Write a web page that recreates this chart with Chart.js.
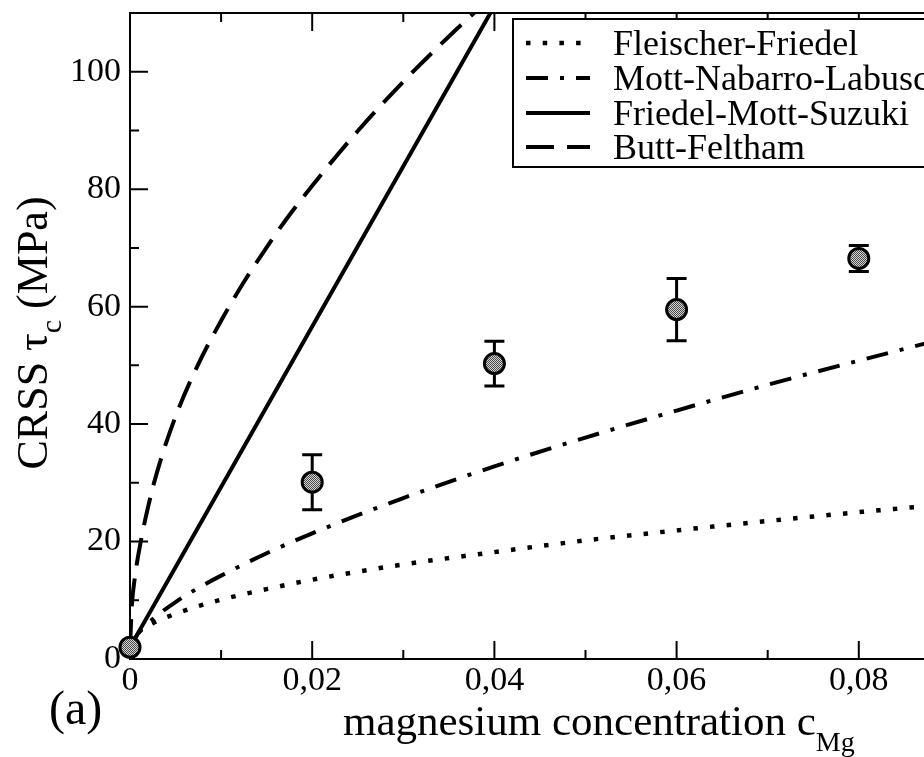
<!DOCTYPE html>
<html>
<head>
<meta charset="utf-8">
<script src="https://cdn.jsdelivr.net/npm/chart.js@4.4.1/dist/chart.umd.min.js"></script>
<style>
  html, body { margin: 0; padding: 0; background: #fff; overflow: hidden; }
  #wrap { width: 1060px; height: 757px; }
</style>
</head>
<body>
<div id="wrap"><canvas id="crss" width="1060" height="757"></canvas></div>
<script>
// shared concentration grid for the two weak-obstacle models
const gridC = [0, 0.001, 0.0025, 0.005, 0.0075, 0.01, 0.015, 0.02, 0.03, 0.04, 0.05, 0.06, 0.07, 0.08, 0.09, 0.1];
const fleischerFriedel = [2, 4.6, 6.1, 7.7, 9.0, 10.1, 11.9, 13.5, 16.1, 18.2, 20.2, 21.9, 23.5, 25.0, 26.4, 27.7];
const mottNabarroLabusch = [2, 4.6, 6.8, 9.7, 12.1, 14.2, 18.0, 21.4, 27.4, 32.8, 37.7, 42.3, 46.7, 50.8, 54.8, 58.7];

const fmsC = [0, 0.01, 0.02, 0.03, 0.04];
const friedelMottSuzuki = [2, 29.3, 56.6, 83.9, 111.2];

const bfC = [0, 0.0002, 0.0005, 0.001, 0.002, 0.003, 0.005, 0.0075, 0.01, 0.0125, 0.015, 0.0175, 0.02, 0.025, 0.03, 0.035, 0.04];
const buttFeltham = [2, 9.0, 13.5, 18.5, 26.0, 32.0, 41.3, 50.2, 57.6, 64.2, 70.1, 75.6, 80.6, 89.9, 98.3, 106.0, 113.2];

// measured CRSS with error bars
const measuredC = [0, 0.02, 0.04, 0.06, 0.08];
const measuredTau = [2.0, 30.1, 50.3, 59.5, 68.2];
const measuredErr = [0, 4.7, 3.8, 5.3, 2.2];

const xTickValues = [0, 0.02, 0.04, 0.06, 0.08, 0.1];
const xTickLabels = ['0', '0,02', '0,04', '0,06', '0,08', '0,1'];
const yTickValues = [0, 20, 40, 60, 80, 100];
const yTickLabels = ['0', '20', '40', '60', '80', '100'];

const FONT = '"Liberation Serif", "Times New Roman", serif';

const pts = (xs, ys) => xs.map((x, i) => ({x: x, y: ys[i]}));

const canvas = document.getElementById('crss');
const ctx = canvas.getContext('2d');

// grey stipple used to fill the markers
function stipple() {
  const c = document.createElement('canvas');
  c.width = 2; c.height = 2;
  const g = c.getContext('2d');
  g.fillStyle = '#d4d4d4'; g.fillRect(0, 0, 2, 2);
  g.fillStyle = '#4a4a4a'; g.fillRect(0, 0, 1, 1); g.fillRect(1, 1, 1, 1);
  return ctx.createPattern(c, 'repeat');
}

function labelFor(values, labels, v) {
  const i = values.findIndex(t => Math.abs(t - v) < 1e-9);
  return i < 0 ? '' : labels[i];
}

// draws text pieces side by side on one baseline (for subscripts)
function richText(g, parts, x, y) {
  parts.forEach(p => {
    g.font = p.size + 'px ' + FONT;
    g.fillText(p.text, x, y + (p.dy || 0));
    x += g.measureText(p.text).width;
  });
}
function richWidth(g, parts) {
  return parts.reduce((w, p) => { g.font = p.size + 'px ' + FONT; return w + g.measureText(p.text).width; }, 0);
}

const framePlugin = {
  id: 'frame',
  beforeDatasetsDraw(chart) {
    const g = chart.ctx, a = chart.chartArea, xs = chart.scales.x, ys = chart.scales.y;
    g.save();
    g.strokeStyle = '#000';
    g.lineWidth = 2;
    g.strokeRect(a.left, a.top, a.right - a.left, a.bottom - a.top);
    g.beginPath();
    xs.ticks.forEach(t => {
      const px = xs.getPixelForValue(t.value);
      const len = t.label ? 18 : 9;
      g.moveTo(px, a.bottom); g.lineTo(px, a.bottom - len);
      g.moveTo(px, a.top); g.lineTo(px, a.top + len);
    });
    ys.ticks.forEach(t => {
      const py = ys.getPixelForValue(t.value);
      const len = t.label ? 18 : 9;
      g.moveTo(a.left, py); g.lineTo(a.left + len, py);
    });
    g.stroke();

    // error bars, drawn under the markers
    g.lineWidth = 3;
    g.beginPath();
    measuredC.forEach((c, i) => {
      if (!measuredErr[i]) return;
      const px = xs.getPixelForValue(c);
      const hi = ys.getPixelForValue(measuredTau[i] + measuredErr[i]);
      const lo = ys.getPixelForValue(measuredTau[i] - measuredErr[i]);
      g.moveTo(px, hi); g.lineTo(px, lo);
      g.moveTo(px - 10, hi); g.lineTo(px + 10, hi);
      g.moveTo(px - 10, lo); g.lineTo(px + 10, lo);
    });
    g.stroke();
    g.restore();
  },
  afterDraw(chart) {
    const g = chart.ctx;
    g.save();
    g.fillStyle = '#000';
    g.textBaseline = 'alphabetic';
    g.textAlign = 'left';

    // axis titles
    richText(g, [{text: 'magnesium concentration c', size: 43}, {text: 'Mg', size: 28, dy: 16}], 343, 735);

    const yParts = [{text: 'CRSS \u03c4', size: 44}, {text: 'c', size: 30, dy: 14}, {text: ' (MPa)', size: 44}];
    const w = richWidth(g, yParts);
    g.save();
    g.translate(47, 333 + w / 2);
    g.rotate(-Math.PI / 2);
    richText(g, yParts, 0, 0);
    g.restore();

    g.font = '48px ' + FONT;
    g.fillText('(a)', 49, 724);

    // legend box
    const box = {left: 513, top: 19, right: 985, bottom: 167};
    g.fillStyle = '#fff';
    g.fillRect(box.left, box.top, box.right - box.left, box.bottom - box.top);
    g.strokeStyle = '#000';
    g.lineWidth = 2;
    g.strokeRect(box.left, box.top, box.right - box.left, box.bottom - box.top);
    g.fillStyle = '#000';
    g.font = '36px ' + FONT;
    const rows = [43, 78, 113, 147];
    chart.data.datasets.filter(d => d.legendRow !== undefined).forEach(d => {
      const y = rows[d.legendRow];
      g.beginPath();
      g.lineWidth = d.borderWidth;
      g.setLineDash(d.borderDash || []);
      g.moveTo(526, y); g.lineTo(590, y);
      g.stroke();
      g.setLineDash([]);
      g.fillText(d.label, 613, y + 12);
    });
    g.restore();
  }
};

new Chart(ctx, {
  type: 'line',
  data: {
    datasets: [
      {
        label: 'measured',
        data: pts(measuredC, measuredTau),
        showLine: false,
        pointRadius: 10,
        pointBorderWidth: 3,
        pointBorderColor: '#000',
        pointBackgroundColor: stipple(),
        clip: false,
        order: 0
      },
      {
        label: 'Fleischer-Friedel', legendRow: 0,
        data: pts(gridC, fleischerFriedel),
        borderColor: '#000', borderWidth: 4.5, borderDash: [4.5, 12.2],
        pointRadius: 0, cubicInterpolationMode: 'monotone', order: 1
      },
      {
        label: 'Mott-Nabarro-Labusch', legendRow: 1,
        data: pts(gridC, mottNabarroLabusch),
        borderColor: '#000', borderWidth: 4, borderDash: [22, 12, 4, 12],
        pointRadius: 0, cubicInterpolationMode: 'monotone', order: 1
      },
      {
        label: 'Friedel-Mott-Suzuki', legendRow: 2,
        data: pts(fmsC, friedelMottSuzuki),
        borderColor: '#000', borderWidth: 4,
        pointRadius: 0, order: 1
      },
      {
        label: 'Butt-Feltham', legendRow: 3,
        data: pts(bfC, buttFeltham),
        borderColor: '#000', borderWidth: 4, borderDash: [28, 13],
        pointRadius: 0, cubicInterpolationMode: 'monotone', order: 1
      }
    ]
  },
  options: {
    responsive: false,
    animation: false,
    devicePixelRatio: 1,
    layout: { padding: { top: 10, right: 19, left: 0, bottom: 0 } },
    plugins: { legend: { display: false }, tooltip: { enabled: false } },
    scales: {
      x: {
        type: 'linear',
        min: 0, max: 0.1,
        grid: { display: false, drawTicks: false },
        border: { display: false },
        ticks: {
          stepSize: 0.01, autoSkip: false, maxRotation: 0, padding: 2,
          color: '#000', font: { family: FONT, size: 34 },
          callback: v => labelFor(xTickValues, xTickLabels, v)
        },
        afterFit: s => { s.height = 98; s.paddingLeft = 0; s.paddingRight = 0; }
      },
      y: {
        min: 0, max: 110,
        grid: { display: false, drawTicks: false },
        border: { display: false },
        ticks: {
          stepSize: 10, autoSkip: false, padding: 9,
          color: '#000', font: { family: FONT, size: 34 },
          callback: v => labelFor(yTickValues, yTickLabels, v)
        },
        afterFit: s => { s.width = 130; s.paddingTop = 0; s.paddingBottom = 0; }
      }
    }
  },
  plugins: [framePlugin]
});
</script>
</body>
</html>
